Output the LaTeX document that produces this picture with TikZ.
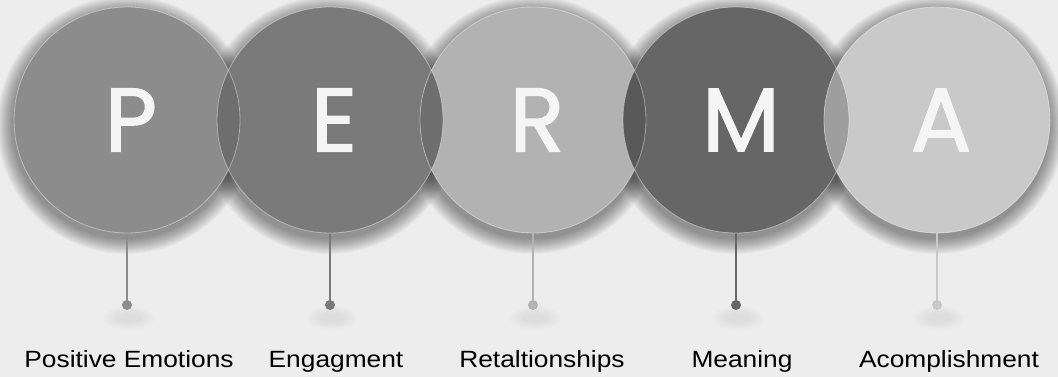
\documentclass[tikz,border=0pt]{standalone}
\usepackage{fontspec}
\setmainfont{Liberation Sans}
\newfontfamily\letterfont[FakeBold=1.6]{Poppins}
\begin{document}
\begin{tikzpicture}[x=1pt,y=-1pt,
  letter/.style={text=white!96!black,font=\letterfont\fontsize{90}{90}\selectfont,inner sep=0pt},
  lbl/.style={text=black,font=\fontsize{23.5}{24}\selectfont,inner sep=0pt,anchor=base},
  stem/.style={line width=2pt},
  dotmark/.style={circle,inner sep=0pt,minimum size=10pt}]
\useasboundingbox (0,0) rectangle (1058,377);
\fill[gray!14!white] (0,0) rectangle (1058,377);
% colours
\definecolor{cP}{gray}{0.55}
\definecolor{cE}{gray}{0.48}
\definecolor{cR}{gray}{0.70}
\definecolor{cM}{gray}{0.40}
\definecolor{cA}{gray}{0.79}
\definecolor{lPE}{gray}{0.43}
\definecolor{lER}{gray}{0.43}
\definecolor{lRM}{gray}{0.35}
\definecolor{lMA}{gray}{0.62}
\def\cy{120}
\def\rr{113}
% shadows
\foreach \cx in {127,330,533,736,937}{
  \foreach \i in {1,...,16}{
    \fill[black,opacity=0.026] (\cx-1,\cy+5) circle ({\rr+17-\i});
  }
}
% dot shadows
\foreach \cx in {127,330,533,736,937}{
  \foreach \i in {1,...,8}{
    \fill[black,opacity=0.006] (\cx+2,318) ellipse ({10+2*\i} and {4+\i});
  }
}
% stems and dots
\coordinate (sP) at (127,233); \coordinate (dP) at (127,305);
\coordinate (sE) at (330,233); \coordinate (dE) at (330,305);
\coordinate (sR) at (533,233); \coordinate (dR) at (533,305);
\coordinate (sM) at (736,233); \coordinate (dM) at (736,305);
\coordinate (sA) at (937,233); \coordinate (dA) at (937,305);
\draw[stem,cP] (sP) -- (dP); \node[dotmark,fill=cP] (oP) at (dP) {};
\draw[stem,cE] (sE) -- (dE); \node[dotmark,fill=cE] (oE) at (dE) {};
\draw[stem,cR] (sR) -- (dR); \node[dotmark,fill=cR] (oR) at (dR) {};
\draw[stem,cM] (sM) -- (dM); \node[dotmark,fill=cM] (oM) at (dM) {};
\draw[stem,cA] (sA) -- (dA); \node[dotmark,fill=cA] (oA) at (dA) {};
% circles
\fill[cP] (127,\cy) circle (\rr);
\fill[cE] (330,\cy) circle (\rr);
\fill[cR] (533,\cy) circle (\rr);
\fill[cM] (736,\cy) circle (\rr);
\fill[cA] (937,\cy) circle (\rr);
% lenses
\begin{scope}\clip (127,\cy) circle (\rr); \fill[lPE] (330,\cy) circle (\rr);\end{scope}
\begin{scope}\clip (330,\cy) circle (\rr); \fill[lER] (533,\cy) circle (\rr);\end{scope}
\begin{scope}\clip (533,\cy) circle (\rr); \fill[lRM] (736,\cy) circle (\rr);\end{scope}
\begin{scope}\clip (736,\cy) circle (\rr); \fill[lMA] (937,\cy) circle (\rr);\end{scope}
% edges
\foreach \cx in {127,330,533,736,937}{
  \draw[white,opacity=0.4,line width=0.8pt] (\cx,\cy) circle (\rr);
}
% letters
\node[letter] (P) at (131,\cy) {P};
\node[letter] (E) at (334,\cy) {E};
\node[letter] (R) at (537,\cy) {R};
\node[letter] (M) at (741,\cy) {M};
\node[letter] (A) at (941,\cy) {A};
% labels
\node[lbl] (lP) at (129,367) {\scalebox{1.12}[1]{Positive Emotions}};
\node[lbl] (lE) at (336,367) {\scalebox{1.12}[1]{Engagment}};
\node[lbl] (lR) at (542,367) {\scalebox{1.12}[1]{Retaltionships}};
\node[lbl] (lM) at (742,367) {\scalebox{1.12}[1]{Meaning}};
\node[lbl] (lA) at (949,367) {\scalebox{1.12}[1]{Acomplishment}};
\end{tikzpicture}
\end{document}
